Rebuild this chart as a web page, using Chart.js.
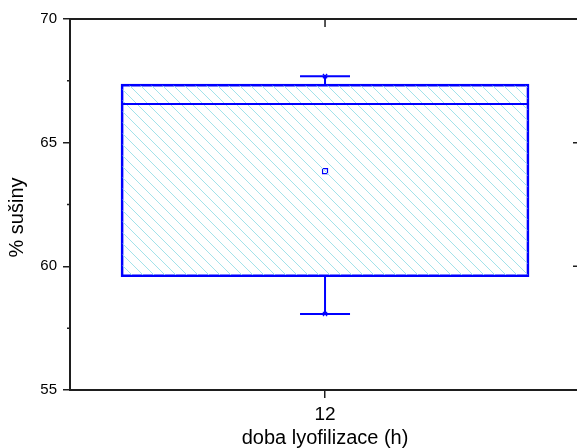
<!DOCTYPE html>
<html>
<head>
<meta charset="utf-8">
<script src="https://cdn.jsdelivr.net/npm/chart.js@4.4.1/dist/chart.umd.min.js"></script>
<style>
  html, body { margin: 0; padding: 0; background: #fff; overflow: hidden; }
  #boxChart { display: block; }
</style>
</head>
<body>
<canvas id="boxChart" width="577" height="448"></canvas>
<script>
// --- data ---
const categories = ['12'];
const boxLow = [59.58];      // 25th percentile
const boxHigh = [67.37];     // 75th percentile
const medians = [66.56];
const means = [63.85];
const whiskerMin = [58.07];
const whiskerMax = [67.69];
const yTickValues = [55, 60, 65, 70];

const xTitle = 'doba lyofilizace (h)';
const yTitle = '% sušiny';

const FONT = "'Liberation Sans', Arial, sans-serif";
const BLUE = '#0000ff';
const AXIS = '#1e1e1e';

// hatched fill (light cyan diagonal lines)
function makeHatch() {
    const size = 11;
    const c = document.createElement('canvas');
    c.width = size; c.height = size;
    const g = c.getContext('2d');
    g.strokeStyle = '#a3e2ea';
    g.lineWidth = 1;
    g.beginPath();
    g.moveTo(-1, -1); g.lineTo(size + 1, size + 1);
    g.moveTo(-1, size - 1); g.lineTo(1, size + 1);
    g.moveTo(size - 1, -1); g.lineTo(size + 1, 1);
    g.stroke();
    return g.createPattern(c, 'repeat');
}

// median, whiskers, caps, frame, minor ticks and axis titles
const boxExtras = {
    id: 'boxExtras',
    afterDatasetsDraw(chart) {
        const { ctx, scales: { y } } = chart;
        const meta = chart.getDatasetMeta(0);
        ctx.save();
        ctx.strokeStyle = BLUE;
        ctx.lineWidth = 2;
        meta.data.forEach((bar, i) => {
            const cx = bar.x;
            const half = bar.width / 2;
            const capHalf = 25;
            ctx.beginPath();
            // median
            ctx.moveTo(cx - half, y.getPixelForValue(medians[i]));
            ctx.lineTo(cx + half, y.getPixelForValue(medians[i]));
            // whiskers
            ctx.moveTo(cx, y.getPixelForValue(boxHigh[i]));
            ctx.lineTo(cx, y.getPixelForValue(whiskerMax[i]));
            ctx.moveTo(cx, y.getPixelForValue(boxLow[i]));
            ctx.lineTo(cx, y.getPixelForValue(whiskerMin[i]));
            // caps
            ctx.moveTo(cx - capHalf, y.getPixelForValue(whiskerMax[i]));
            ctx.lineTo(cx + capHalf, y.getPixelForValue(whiskerMax[i]));
            ctx.moveTo(cx - capHalf, y.getPixelForValue(whiskerMin[i]));
            ctx.lineTo(cx + capHalf, y.getPixelForValue(whiskerMin[i]));
            ctx.stroke();
        });
        ctx.restore();
    },
    afterDraw(chart) {
        const { ctx, chartArea, scales: { x, y } } = chart;
        // the right axis of the original sits just past the picture edge
        const frameRight = chartArea.right + 3;
        ctx.save();
        ctx.strokeStyle = AXIS;
        ctx.lineWidth = 2;
        ctx.beginPath();
        ctx.moveTo(chartArea.left, chartArea.top);
        ctx.lineTo(frameRight, chartArea.top);
        ctx.moveTo(chartArea.right, chartArea.bottom);
        ctx.lineTo(frameRight, chartArea.bottom);
        ctx.stroke();
        ctx.lineWidth = 1.5;
        ctx.beginPath();
        y.ticks.forEach(t => {
            const py = y.getPixelForValue(t.value);
            const major = yTickValues.includes(t.value);
            const len = major ? 7 : 3;
            if (!major) {
                ctx.moveTo(chartArea.left - len, py);
                ctx.lineTo(chartArea.left, py);
            }
            ctx.moveTo(frameRight - len, py);
            ctx.lineTo(frameRight, py);
        });
        categories.forEach((c, i) => {
            const px = x.getPixelForValue(i);
            ctx.moveTo(px, chartArea.top);
            ctx.lineTo(px, chartArea.top + 8);
        });
        ctx.stroke();

        // axis titles
        ctx.fillStyle = '#000';
        ctx.font = '20px ' + FONT;
        ctx.textAlign = 'center';
        ctx.textBaseline = 'alphabetic';
        ctx.fillText(xTitle, x.getPixelForValue(0), 444);
        ctx.translate(17.5, (chartArea.top + chartArea.bottom) / 2 + 13);
        ctx.rotate(-Math.PI / 2);
        ctx.textBaseline = 'middle';
        ctx.fillText(yTitle, 0, 0);
        ctx.restore();
    }
};

const canvas = document.getElementById('boxChart');
const ctx = canvas.getContext('2d');

new Chart(ctx, {
    type: 'bar',
    data: {
        datasets: [{
            label: 'box',
            data: categories.map((c, i) => ({ x: i, y: [boxLow[i], boxHigh[i]] })),
            backgroundColor: makeHatch(),
            borderColor: BLUE,
            borderWidth: 2,
            borderSkipped: false,
            barThickness: 408
        }, {
            type: 'line',
            label: 'mean',
            data: categories.map((c, i) => ({ x: i, y: means[i] })),
            showLine: false,
            pointStyle: 'rect',
            pointRadius: 3.5,
            pointBorderWidth: 1.2,
            pointBorderColor: BLUE,
            pointBackgroundColor: '#fff'
        }, {
            type: 'line',
            label: 'max',
            data: categories.map((c, i) => ({ x: i, y: whiskerMax[i] })),
            showLine: false,
            pointStyle: 'crossRot',
            pointRadius: 3,
            pointBorderWidth: 1.2,
            pointBorderColor: BLUE
        }, {
            type: 'line',
            label: 'min',
            data: categories.map((c, i) => ({ x: i, y: whiskerMin[i] })),
            showLine: false,
            pointStyle: 'crossRot',
            pointRadius: 3,
            pointBorderWidth: 1.2,
            pointBorderColor: BLUE
        }]
    },
    options: {
        responsive: false,
        animation: false,
        devicePixelRatio: 1,
        layout: { autoPadding: false, padding: { left: 3, top: 19, right: 0, bottom: 0 } },
        plugins: {
            legend: { display: false },
            tooltip: { enabled: false }
        },
        scales: {
            x: {
                type: 'linear',
                min: -0.5,
                max: 0.494,   // frame is cut off at the right edge
                offset: false,
                afterBuildTicks: s => { s.ticks = categories.map((c, i) => ({ value: i })); },
                grid: { offset: false, drawOnChartArea: false, tickLength: 8, tickColor: AXIS, lineWidth: 1.5 },
                border: { color: AXIS, width: 2 },
                ticks: {
                    color: '#000',
                    font: { family: FONT, size: 19 },
                    padding: 5,
                    callback: v => categories[v] ?? ''
                },
                title: { display: false },
                afterFit: s => { s.height = 58; }
            },
            y: {
                min: 55,
                max: 70,
                grid: {
                    drawOnChartArea: false,
                    tickLength: 7,
                    lineWidth: 1.5,
                    tickColor: c => (c.tick && yTickValues.includes(c.tick.value)) ? AXIS : 'rgba(0,0,0,0)'
                },
                border: { color: AXIS, width: 2 },
                ticks: {
                    stepSize: 2.5,
                    color: '#000',
                    font: { family: FONT, size: 15 },
                    padding: 6,
                    callback: v => yTickValues.includes(v) ? v : ''
                },
                title: { display: false },
                afterFit: s => { s.width = 67; }
            }
        }
    },
    plugins: [boxExtras]
});
</script>
</body>
</html>
